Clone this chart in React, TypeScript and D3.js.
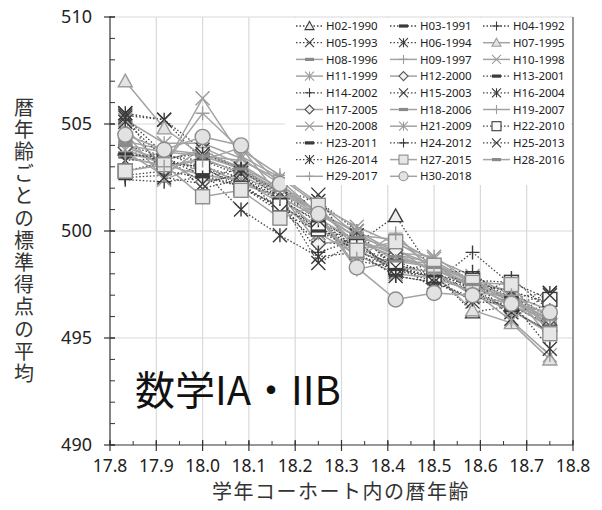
import React from "react";
import * as d3 from "d3";

// ---- DATA ----
const AGES = [17.833, 17.917, 18.0, 18.083, 18.167, 18.25, 18.333, 18.417, 18.5, 18.583, 18.667, 18.75];
const X_TICKS = [17.8, 17.9, 18.0, 18.1, 18.2, 18.3, 18.4, 18.5, 18.6, 18.7, 18.8];
const Y_TICKS = [490, 495, 500, 505, 510];

const H02 = [503.8, 503.2, 503.0, 502.3, 501.6, 500.6, 499.4, 500.7, 498.0, 496.2, 496.5, 495.6];
const H03 = [504.0, 503.5, 503.3, 502.6, 501.5, 500.4, 499.6, 498.7, 498.3, 497.8, 496.9, 496.0];
const H04 = [502.5, 502.6, 502.9, 502.2, 501.0, 499.5, 499.3, 498.3, 497.6, 499.0, 497.5, 495.4];
const H05 = [505.4, 505.2, 503.3, 502.8, 501.7, 499.9, 499.8, 498.4, 498.0, 497.4, 496.9, 497.1];
const H06 = [505.5, 505.2, 503.8, 502.9, 501.9, 501.4, 500.0, 498.2, 498.4, 497.2, 496.2, 496.5];
const H07 = [507.0, 504.8, 503.5, 503.3, 502.4, 500.8, 499.7, 499.2, 498.0, 496.3, 495.7, 494.0];
const H08 = [504.2, 503.8, 503.6, 503.0, 502.0, 500.9, 499.9, 498.9, 498.5, 497.6, 496.7, 495.7];
const H09 = [503.4, 503.1, 505.5, 503.8, 502.6, 501.3, 499.8, 499.6, 498.6, 497.6, 497.2, 495.0];
const H10 = [504.8, 503.0, 506.2, 503.5, 502.5, 501.2, 500.2, 499.4, 498.7, 497.9, 497.0, 496.3];
const H11 = [505.2, 504.1, 504.1, 503.4, 502.2, 500.8, 500.0, 499.0, 498.8, 497.6, 496.9, 495.8];
const H12 = [503.6, 503.3, 503.8, 502.8, 501.8, 499.4, 499.6, 498.9, 498.2, 497.5, 496.8, 495.6];
const H13 = [503.5, 503.6, 503.0, 502.5, 501.4, 500.5, 499.2, 498.6, 497.9, 497.3, 496.3, 495.3];
const H14 = [502.4, 502.3, 502.5, 502.1, 501.1, 500.3, 498.8, 498.4, 498.1, 498.1, 496.5, 495.6];
const H15 = [505.3, 503.6, 502.0, 502.4, 501.5, 498.5, 499.5, 498.1, 497.9, 497.5, 497.2, 496.6];
const H16 = [503.3, 503.4, 502.8, 501.0, 499.8, 498.8, 499.0, 498.5, 497.3, 497.8, 495.9, 497.1];
const H17 = [503.9, 503.3, 502.3, 502.6, 501.7, 501.0, 499.4, 499.1, 498.4, 497.7, 496.8, 495.9];
const H18 = [504.1, 503.0, 503.4, 502.7, 501.9, 500.6, 499.5, 498.8, 498.2, 497.4, 496.6, 495.5];
const H19 = [503.7, 502.6, 503.9, 503.1, 502.0, 500.7, 498.2, 498.6, 498.5, 497.3, 496.8, 495.8];
const H20 = [504.6, 502.4, 503.1, 502.2, 501.6, 500.1, 499.1, 498.3, 498.1, 497.0, 496.3, 495.2];
const H21 = [503.8, 503.1, 502.6, 502.4, 501.3, 499.9, 498.9, 498.0, 497.8, 497.2, 495.8, 494.2];
const H22 = [502.8, 503.2, 503.0, 502.0, 501.2, 500.1, 499.3, 498.3, 497.9, 497.7, 497.6, 496.8];
const H23 = [503.6, 503.4, 502.6, 502.1, 500.9, 500.0, 499.1, 498.2, 497.9, 497.2, 496.3, 495.3];
const H24 = [502.6, 502.8, 502.5, 502.9, 501.5, 499.0, 499.6, 497.9, 497.6, 496.8, 497.8, 496.3];
const H25 = [505.5, 502.5, 502.2, 502.7, 500.9, 501.7, 498.6, 498.3, 497.8, 496.7, 496.6, 497.0];
const H26 = [505.1, 503.4, 503.6, 502.9, 501.8, 500.5, 499.0, 497.9, 497.6, 496.9, 496.7, 494.5];
const H27 = [502.8, 503.1, 501.6, 501.9, 500.6, 501.2, 499.1, 499.5, 498.4, 497.6, 497.5, 495.2];
const H28 = [504.0, 503.7, 503.5, 502.9, 501.9, 500.9, 499.7, 498.6, 498.3, 497.5, 496.5, 495.9];
const H29 = [503.5, 503.0, 503.3, 503.9, 501.6, 500.6, 498.7, 499.9, 498.0, 497.1, 497.0, 496.0];
const H30 = [504.5, 503.8, 504.4, 504.0, 502.2, 500.8, 498.3, 496.8, 497.1, 497.0, 496.6, 496.2];

const SERIES_NAMES = [
  "H02-1990", "H03-1991", "H04-1992", "H05-1993", "H06-1994", "H07-1995", "H08-1996", "H09-1997",
  "H10-1998", "H11-1999", "H12-2000", "H13-2001", "H14-2002", "H15-2003", "H16-2004", "H17-2005",
  "H18-2006", "H19-2007", "H20-2008", "H21-2009", "H22-2010", "H23-2011", "H24-2012", "H25-2013",
  "H26-2014", "H27-2015", "H28-2016", "H29-2017", "H30-2018",
];
const SERIES_VALUES = [H02, H03, H04, H05, H06, H07, H08, H09, H10, H11, H12, H13, H14, H15, H16,
  H17, H18, H19, H20, H21, H22, H23, H24, H25, H26, H27, H28, H29, H30];

// ---- STYLE ----
type MType = "triangle" | "dash" | "plus" | "x" | "star" | "diamond" | "square" | "circle";
const MARKERS: MType[] = [
  "triangle", "dash", "plus", "x", "star", "triangle", "dash", "plus", "x", "star", "diamond",
  "dash", "plus", "x", "star", "diamond", "dash", "plus", "x", "star", "square",
  "dash", "plus", "x", "star", "square", "dash", "plus", "circle",
];
// true = dotted dark series
const DOTTED = [
  true, true, true, true, true, false, false, false, false, false, false,
  true, true, true, true, false, false, false, false, false, true,
  true, true, true, true, false, false, false, false,
];

const W = 602, H = 510;
const PL = 110, PR = 573, PT = 17, PB = 445;

const CJK = "'Noto Sans CJK JP', 'Noto Sans', sans-serif";
const LAT = "'Noto Sans', 'Liberation Sans', sans-serif";

function Marker({ type, x, y, r, dark }: { type: MType; x: number; y: number; r: number; dark: boolean }) {
  const stroke = dark ? "#3a3a3a" : "#9c9c9c";
  const fill = dark ? "#ededed" : "#e3e3e3";
  const sw = r > 5 ? 1.4 : 1.1;
  switch (type) {
    case "triangle":
      return <path d={`M${x},${y - r}L${x + r},${y + r * 0.8}L${x - r},${y + r * 0.8}Z`} fill={fill} stroke={stroke} strokeWidth={sw} />;
    case "dash":
      return <rect x={x - r} y={y - 1.6} width={2 * r} height={3.2} fill={dark ? "#3a3a3a" : "#8a8a8a"} />;
    case "plus":
      return <path d={`M${x - r},${y}H${x + r}M${x},${y - r}V${y + r}`} stroke={stroke} strokeWidth={sw} fill="none" />;
    case "x":
      return <path d={`M${x - r},${y - r}L${x + r},${y + r}M${x - r},${y + r}L${x + r},${y - r}`} stroke={stroke} strokeWidth={sw} fill="none" />;
    case "star":
      return <path d={`M${x - r},${y - r}L${x + r},${y + r}M${x - r},${y + r}L${x + r},${y - r}M${x},${y - r}V${y + r}`} stroke={stroke} strokeWidth={sw} fill="none" />;
    case "diamond":
      return <path d={`M${x},${y - r}L${x + r},${y}L${x},${y + r}L${x - r},${y}Z`} fill={dark ? "#fff" : "#f2f2f2"} stroke={dark ? "#3a3a3a" : "#555"} strokeWidth={sw} />;
    case "square":
      return <rect x={x - r} y={y - r} width={2 * r} height={2 * r} fill={dark ? "#fafafa" : "#e6e6e6"} stroke={dark ? "#3a3a3a" : "#8c8c8c"} strokeWidth={sw} />;
    case "circle":
      return <circle cx={x} cy={y} r={r} fill="#e2e2e2" stroke="#8c8c8c" strokeWidth={sw} />;
  }
  return null;
}

export default function App() {
  const x = d3.scaleLinear().domain([17.8, 18.8]).range([PL, PR]);
  const y = d3.scaleLinear().domain([490, 510]).range([PB, PT]);
  const line = d3.line<number>().x((_, i) => x(AGES[i])).y((v) => y(v));

  const xMinor = d3.range(0, 21).map((i) => 17.8 + i * 0.05);
  const yMinor = d3.range(490, 511, 1);

  const lgX = [296, 390, 483];
  const lgTx = [326, 420, 513];
  const lgY0 = 26, lgDy = 16.7;

  return (
    <svg width={W} height={H} style={{ position: "absolute", left: 0, top: 0, background: "#fff" }}>
      <rect x={0} y={0} width={W} height={H} fill="#fff" />
      {/* grid */}
      {X_TICKS.slice(1, -1).map((t) => (
        <line key={"gx" + t} x1={x(t)} x2={x(t)} y1={PT} y2={PB} stroke="#d9d9d9" strokeWidth={1.2} />
      ))}
      {Y_TICKS.slice(1).map((t) => (
        <line key={"gy" + t} x1={PL} x2={PR} y1={y(t)} y2={y(t)} stroke="#d9d9d9" strokeWidth={1.2} />
      ))}
      {/* right border */}
      <line x1={PR} x2={PR} y1={PT} y2={PB} stroke="#555" strokeWidth={1.2} />

      {/* series lines */}
      {SERIES_VALUES.map((vals, si) => (
        <path key={"l" + si} d={line(vals) || ""} fill="none"
          stroke={DOTTED[si] ? "#454545" : "#a3a3a3"}
          strokeWidth={DOTTED[si] ? 1.3 : 1.5}
          strokeDasharray={DOTTED[si] ? "1.5,2" : undefined} />
      ))}
      {/* markers */}
      {SERIES_VALUES.map((vals, si) => (
        <g key={"m" + si}>
          {vals.map((v, i) => (
            <Marker key={i} type={MARKERS[si]} x={x(AGES[i])} y={y(v)} r={MARKERS[si] === "circle" ? 7.5 : 7} dark={DOTTED[si]} />
          ))}
        </g>
      ))}

      {/* legend */}
      <rect x={285} y={18} width={286} height={167} fill="#fff" />
      {SERIES_NAMES.map((name, si) => {
        const col = si % 3;
        const row = Math.floor(si / 3);
        const cy = lgY0 + row * lgDy;
        const lx = lgX[col];
        return (
          <g key={"lg" + si}>
            <line x1={lx} x2={lx + 27} y1={cy} y2={cy}
              stroke={DOTTED[si] ? "#454545" : "#a3a3a3"} strokeWidth={DOTTED[si] ? 1.3 : 1.5}
              strokeDasharray={DOTTED[si] ? "1.5,2" : undefined} />
            <Marker type={MARKERS[si]} x={lx + 13.5} y={cy} r={4.5} dark={DOTTED[si]} />
            <text x={lgTx[col]} y={cy} dy="0.36em" fontFamily={LAT} fontSize={11.5} fill="#222">{name}</text>
          </g>
        );
      })}

      {/* axes */}
      <line x1={PL} x2={PL} y1={PT - 1} y2={PB} stroke="#333" strokeWidth={1.2} />
      <line x1={PL} x2={PR} y1={PB} y2={PB} stroke="#333" strokeWidth={1.2} />
      {yMinor.map((t) => (
        <line key={"ym" + t} x1={PL} x2={PL + 5} y1={y(t)} y2={y(t)} stroke="#333" strokeWidth={1} />
      ))}
      {Y_TICKS.map((t) => (
        <g key={"yt" + t}>
          <line x1={PL - 6} x2={PL + 5} y1={y(t)} y2={y(t)} stroke="#333" strokeWidth={1.2} />
          <text x={PL - 18} y={y(t)} dy="0.36em" textAnchor="end" fontFamily={LAT} fontSize={18} fill="#222">{t}</text>
        </g>
      ))}
      {xMinor.map((t, i) => (
        <line key={"xm" + i} x1={x(t)} x2={x(t)} y1={PB - 4} y2={PB} stroke="#333" strokeWidth={1} />
      ))}
      {X_TICKS.map((t) => (
        <g key={"xt" + t}>
          <line x1={x(t)} x2={x(t)} y1={PB - 5} y2={PB + 6} stroke="#333" strokeWidth={1.2} />
          <text x={x(t)} y={PB + 27} textAnchor="middle" fontFamily={LAT} fontSize={17.5} fill="#222">{d3.format(".1f")(t)}</text>
        </g>
      ))}

      {/* axis titles */}
      <text x={24} y={97} fontFamily={CJK} fontSize={20} letterSpacing={2.2} fill="#333"
        style={{ writingMode: "vertical-rl", textOrientation: "upright" } as any}>暦年齢ごとの標準得点の平均</text>
      <text x={341} y={499} textAnchor="middle" fontFamily={CJK} fontSize={20} letterSpacing={1.5} fill="#333">学年コーホート内の暦年齢</text>

      {/* subject label */}
      <text x={135} y={405} fontFamily={CJK} fontSize={40} fill="#111">数学IA・IIB</text>
    </svg>
  );
}
